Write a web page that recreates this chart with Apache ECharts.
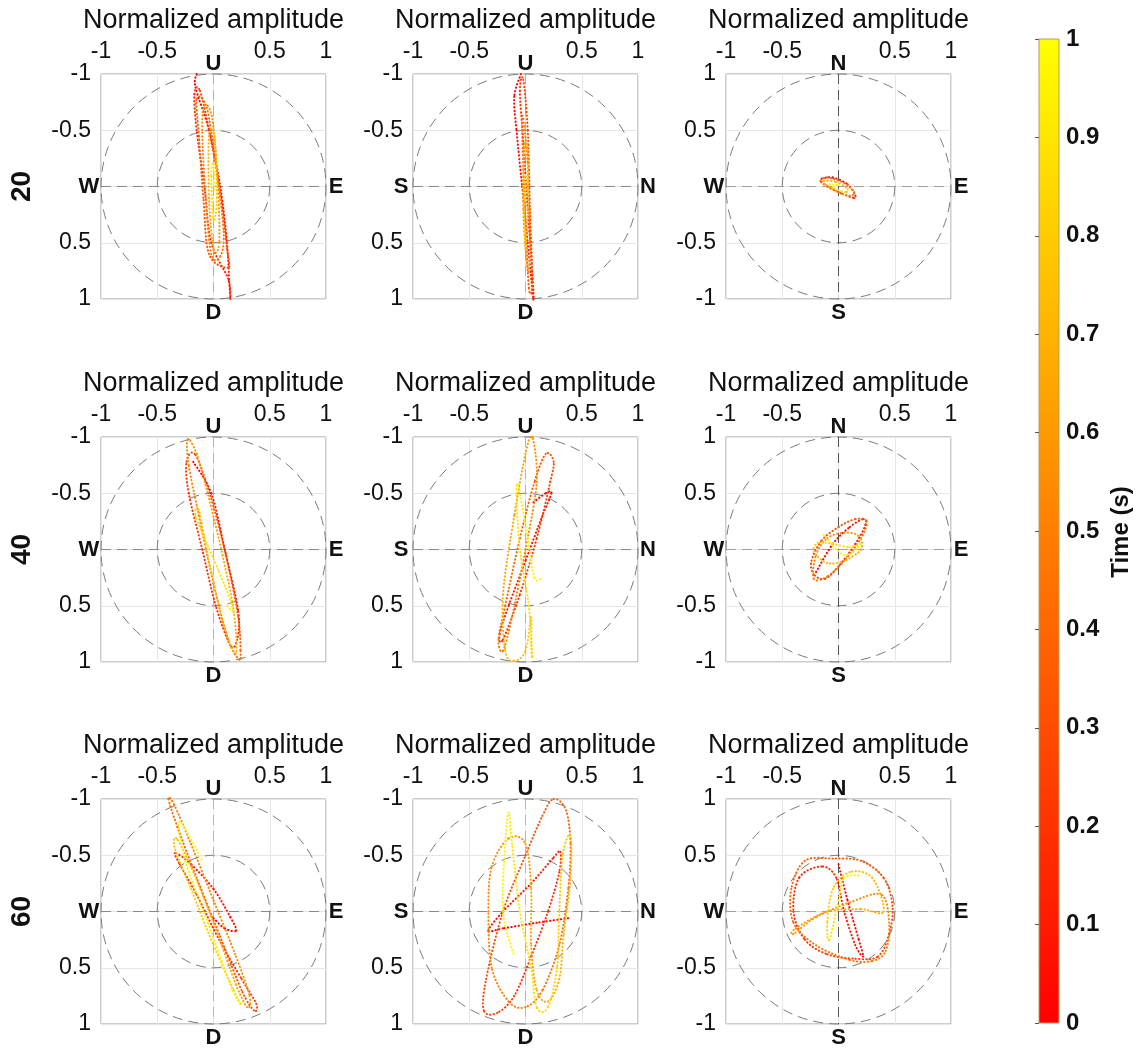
<!DOCTYPE html>
<html>
<head>
<meta charset="utf-8">
<script src="https://cdn.jsdelivr.net/npm/echarts@6/dist/echarts.min.js"></script>
<style>html,body{margin:0;padding:0;background:#fff}#c{width:1142px;height:1048px}</style>
</head>
<body>
<div id="c"></div>
<script>
// ---------------- DATA ----------------
const ampTicks = [-1, -0.5, 0, 0.5, 1];
const timeTicks = [0, 0.1, 0.2, 0.3, 0.4, 0.5, 0.6, 0.7, 0.8, 0.9, 1];
const rowLabels = ['20', '40', '60'];
const axisTitle = 'Normalized amplitude';
const colorbarTitle = 'Time (s)';
const ringRadii = [0.5, 1];
const dirLabels = [
  { top: 'U', bottom: 'D', left: 'W', right: 'E' },
  { top: 'U', bottom: 'D', left: 'S', right: 'N' },
  { top: 'N', bottom: 'S', left: 'W', right: 'E' }
];
// each point: [horizontal, vertical, time(s)]
const traj20_UD_WE = [
  [-0.15,-1.0,0],[-0.16,-0.88,0.02],[-0.04,-0.5,0.04],[0.06,0.0,0.06],[0.12,0.5,0.08],[0.14,0.85,0.10],[0.15,1.0,0.11],
  [0.13,0.82,0.13],[-0.02,0.5,0.15],[-0.08,0.0,0.17],[-0.15,-0.5,0.19],[-0.17,-0.82,0.21],[-0.12,-0.85,0.23],
  [-0.03,-0.45,0.25],[0.06,0.05,0.27],[0.12,0.55,0.29],[0.13,0.72,0.31],[-0.04,0.6,0.33],[-0.09,0.1,0.35],
  [-0.13,-0.45,0.37],[-0.15,-0.78,0.39],[-0.06,-0.7,0.41],[0.02,-0.2,0.43],[0.09,0.4,0.45],[0.06,0.62,0.47],
  [-0.02,0.6,0.49],[-0.07,0.1,0.51],[-0.1,-0.5,0.53],[-0.08,-0.72,0.55],[-0.01,-0.6,0.57],[0.04,0.0,0.60],
  [0.05,0.5,0.63],[0.0,0.55,0.66],[-0.04,0.1,0.70],[-0.04,-0.45,0.74],[0.01,-0.45,0.78],[0.03,0.1,0.82],
  [0.0,0.3,0.86],[-0.02,-0.1,0.90],[0.0,-0.2,0.94],[0.01,0.05,1.0]
];
const traj20_UD_SN = [
  [-0.04,-1.0,0],[-0.1,-0.8,0.02],[-0.08,-0.5,0.04],[-0.03,0.0,0.06],[0.02,0.5,0.08],[0.07,1.0,0.10],
  [0.06,0.75,0.13],[0.02,0.2,0.16],[-0.02,-0.4,0.19],[-0.05,-0.85,0.22],[-0.02,-0.95,0.25],[0.02,-0.5,0.28],
  [0.04,0.2,0.31],[0.06,0.85,0.34],[0.03,0.9,0.37],[0.0,0.3,0.40],[-0.03,-0.5,0.43],[-0.02,-0.6,0.46],
  [0.02,-0.2,0.50],[0.04,0.5,0.54],[0.02,0.75,0.58],[-0.02,0.2,0.62],[-0.01,-0.35,0.66],[0.02,-0.3,0.70],
  [0.02,0.2,0.75],[0.0,0.55,0.80],[-0.01,0.1,0.86],[0.0,-0.1,0.92],[0.0,0.1,1.0]
];
const traj20_NS_WE = [
  [-0.15,0.07,0],[-0.05,0.08,0.05],[0.08,0.02,0.10],[0.15,-0.08,0.15],[0.13,-0.1,0.20],[0.02,-0.06,0.25],
  [-0.1,0.0,0.30],[-0.16,0.05,0.35],[-0.1,0.08,0.40],[0.05,0.03,0.45],[0.14,-0.05,0.50],[0.1,-0.08,0.55],
  [-0.02,-0.04,0.60],[-0.12,0.02,0.65],[-0.13,0.05,0.70],[-0.02,0.04,0.75],[0.08,-0.02,0.80],[0.06,-0.05,0.85],
  [-0.05,-0.01,0.90],[-0.08,0.02,0.95],[0.0,0.01,1.0]
];
const traj40_UD_WE = [
  [-0.18,-0.78,0],[-0.02,-0.5,0.03],[0.1,0.0,0.06],[0.22,0.55,0.09],[0.21,0.8,0.12],[0.15,0.85,0.14],
  [0.02,0.5,0.16],[-0.1,0.0,0.19],[-0.22,-0.5,0.22],[-0.24,-0.78,0.25],[-0.16,-0.84,0.27],[-0.02,-0.45,0.30],
  [0.11,0.05,0.33],[0.22,0.6,0.36],[0.24,0.9,0.39],[0.23,0.98,0.42],[0.13,0.8,0.45],[0.0,0.3,0.48],
  [-0.13,-0.3,0.51],[-0.22,-0.75,0.54],[-0.23,-0.98,0.57],[-0.15,-0.85,0.60],[-0.04,-0.45,0.63],[0.08,0.05,0.66],
  [0.18,0.55,0.69],[0.2,0.92,0.72],[0.1,0.7,0.75],[-0.03,0.15,0.78],[-0.13,-0.35,0.81],[-0.16,-0.3,0.84],
  [-0.1,-0.15,0.87],[0.05,0.2,0.90],[0.15,0.45,0.94],[0.17,0.55,0.97],[0.12,0.5,1.0]
];
const traj40_UD_SN = [
  [0.07,-0.42,0],[0.18,-0.5,0.02],[0.23,-0.5,0.04],[0.15,-0.3,0.06],[0.0,0.1,0.09],[-0.15,0.5,0.12],
  [-0.23,0.75,0.15],[-0.2,0.8,0.18],[-0.05,0.4,0.21],[0.1,-0.1,0.24],[0.22,-0.6,0.27],[0.25,-0.78,0.30],
  [0.18,-0.85,0.33],[0.08,-0.6,0.36],[-0.05,-0.1,0.39],[-0.18,0.5,0.42],[-0.24,0.8,0.45],[-0.2,0.9,0.48],
  [-0.12,0.6,0.50],[0.0,0.0,0.53],[0.1,-0.6,0.56],[0.06,-1.0,0.60],[0.0,-0.85,0.63],[-0.1,-0.3,0.66],
  [-0.2,0.4,0.69],[-0.18,0.9,0.72],[-0.1,0.99,0.75],[0.0,0.9,0.78],[0.05,0.6,0.80],[0.05,0.85,0.82],
  [0.06,0.95,0.84],[0.03,0.5,0.86],[-0.05,0.0,0.89],[-0.08,-0.5,0.92],[-0.06,-0.55,0.94],[0.02,-0.1,0.96],
  [0.08,0.25,0.98],[0.15,0.25,1.0]
];
const traj40_NS_WE = [
  [-0.2,-0.2,0],[-0.05,0.05,0.03],[0.1,0.2,0.06],[0.22,0.27,0.09],[0.24,0.22,0.12],[0.15,0.05,0.15],
  [0.0,-0.15,0.18],[-0.12,-0.26,0.21],[-0.22,-0.22,0.24],[-0.24,-0.1,0.27],[-0.15,0.08,0.30],[0.0,0.2,0.33],
  [0.15,0.27,0.36],[0.25,0.25,0.39],[0.2,0.1,0.42],[0.05,-0.1,0.45],[-0.1,-0.24,0.48],[-0.22,-0.26,0.51],
  [-0.2,-0.05,0.54],[-0.1,0.1,0.57],[0.05,0.15,0.60],[0.18,0.12,0.63],[0.2,0.0,0.66],[0.05,-0.1,0.70],
  [-0.1,-0.12,0.74],[-0.22,-0.02,0.78],[-0.18,0.06,0.82],[-0.05,0.05,0.86],[0.1,0.02,0.90],[0.2,0.05,0.93],
  [0.05,-0.05,0.96],[-0.15,0.15,1.0]
];
const traj60_UD_WE = [
  [0.0,0.06,0],[0.1,0.15,0.02],[0.2,0.17,0.04],[0.15,0.05,0.06],[0.0,-0.2,0.08],[-0.2,-0.42,0.10],
  [-0.34,-0.52,0.12],[-0.3,-0.42,0.14],[-0.15,-0.15,0.17],[0.05,0.25,0.20],[0.25,0.6,0.23],[0.38,0.82,0.26],
  [0.36,0.88,0.29],[0.25,0.7,0.32],[0.05,0.2,0.35],[-0.15,-0.3,0.38],[-0.32,-0.75,0.41],[-0.4,-1.0,0.44],
  [-0.35,-0.95,0.47],[-0.2,-0.6,0.50],[0.0,-0.1,0.53],[0.2,0.4,0.56],[0.32,0.75,0.59],[0.3,0.85,0.62],
  [0.2,0.65,0.65],[0.0,0.1,0.68],[-0.2,-0.4,0.71],[-0.33,-0.65,0.74],[-0.34,-0.55,0.77],[-0.2,-0.2,0.80],
  [0.0,0.3,0.83],[0.18,0.7,0.86],[0.24,0.82,0.89],[0.15,0.65,0.92],[-0.05,0.1,0.94],[-0.25,-0.45,0.96],
  [-0.3,-0.8,0.98],[-0.1,-0.45,1.0]
];
const traj60_UD_SN = [
  [0.38,0.06,0],[0.1,0.1,0.02],[-0.2,0.15,0.04],[-0.33,0.17,0.06],[-0.2,0.0,0.08],[0.05,-0.25,0.10],
  [0.25,-0.48,0.12],[0.31,-0.53,0.14],[0.3,-0.35,0.16],[0.2,0.0,0.18],[0.05,0.4,0.20],[-0.1,0.75,0.22],
  [-0.25,0.9,0.24],[-0.37,0.88,0.26],[-0.35,0.6,0.28],[-0.2,0.0,0.30],[0.0,-0.5,0.32],[0.15,-0.85,0.34],
  [0.25,-1.0,0.36],[0.36,-0.9,0.38],[0.4,-0.6,0.40],[0.38,-0.2,0.42],[0.3,0.3,0.44],[0.15,0.7,0.46],
  [0.0,0.85,0.48],[-0.15,0.8,0.50],[-0.3,0.5,0.52],[-0.33,0.0,0.54],[-0.3,-0.4,0.56],[-0.15,-0.65,0.58],
  [0.0,-0.6,0.60],[0.05,-0.2,0.62],[0.05,0.3,0.64],[0.1,0.7,0.66],[0.2,0.8,0.68],[0.3,0.6,0.70],
  [0.34,0.2,0.72],[0.4,-0.3,0.74],[0.4,-0.68,0.76],[0.33,-0.5,0.78],[0.3,0.0,0.80],[0.28,0.5,0.82],
  [0.2,0.85,0.84],[0.1,0.85,0.86],[0.05,0.5,0.88],[-0.05,0.0,0.90],[-0.12,-0.6,0.92],[-0.15,-0.88,0.94],
  [-0.18,-0.6,0.96],[-0.2,0.0,0.98],[-0.1,0.4,1.0]
];
const traj60_NS_WE = [
  [0.0,0.42,0],[0.08,0.1,0.02],[0.18,-0.25,0.04],[0.22,-0.4,0.06],[0.15,-0.3,0.08],[0.05,0.0,0.10],
  [-0.02,0.3,0.12],[-0.15,0.4,0.14],[-0.35,0.3,0.16],[-0.4,0.0,0.18],[-0.3,-0.25,0.20],[-0.1,-0.38,0.22],
  [0.15,-0.42,0.24],[0.35,-0.4,0.26],[0.45,-0.2,0.28],[0.48,0.05,0.30],[0.4,0.3,0.32],[0.2,0.45,0.34],
  [-0.05,0.47,0.36],[-0.3,0.45,0.38],[-0.42,0.2,0.40],[-0.4,-0.1,0.42],[-0.2,-0.3,0.44],[0.1,-0.43,0.46],
  [0.3,-0.44,0.48],[0.42,-0.35,0.50],[0.45,-0.1,0.52],[0.38,0.15,0.54],[0.1,0.08,0.56],[-0.2,-0.05,0.58],
  [-0.4,-0.2,0.60],[-0.38,-0.15,0.62],[-0.1,0.0,0.65],[0.2,0.02,0.68],[0.4,0.0,0.71],[0.3,0.3,0.74],
  [0.1,0.35,0.77],[-0.05,0.2,0.80],[-0.1,-0.1,0.84],[-0.08,-0.25,0.88],[0.0,0.1,0.92],[0.05,0.3,0.96],
  [0.2,0.32,1.0]
];
const panels = [
  [traj20_UD_WE, traj20_UD_SN, traj20_NS_WE],
  [traj40_UD_WE, traj40_UD_SN, traj40_NS_WE],
  [traj60_UD_WE, traj60_UD_SN, traj60_NS_WE]
];

// ---------------- LAYOUT / STYLE ----------------
const FONT = '"Liberation Sans", Arial, Helvetica, sans-serif';
const colLeft = [101, 413, 726];
const rowTop = [74, 437, 799];
const SIZE = 225;
const cbar = { left: 1039, top: 39, width: 20, height: 984 };

const grids = [], xAxes = [], yAxes = [], series = [], trajIdx = [];

function fmtTick(v) { return v === 0 ? '' : String(v); }

function frameRender(c) {
  return function (params, api) {
    const o = api.coord([0, 0]);
    const a = api.coord([ampTicks[0], ampTicks[0]]);
    const b = api.coord([ampTicks[4], ampTicks[4]]);
    const L = Math.min(a[0], b[0]), R = Math.max(a[0], b[0]);
    const T = Math.min(a[1], b[1]), B = Math.max(a[1], b[1]);
    const children = [];
    ringRadii.forEach(function (r) {
      const s = api.size([r, r]);
      children.push({ type: 'circle', shape: { cx: o[0], cy: o[1], r: s[0] },
        style: { fill: 'none', stroke: '#7a7a7a', lineWidth: 1, lineDash: [10, 6] } });
    });
    const hCol = c === 2 ? '#a0a0a0' : '#8a8a8a';
    const vCol = c === 2 ? '#555555' : '#b0b4c0';
    children.push({ type: 'line', shape: { x1: L, y1: o[1], x2: R, y2: o[1] },
      style: { stroke: hCol, lineWidth: 1, lineDash: [10, 6] } });
    children.push({ type: 'line', shape: { x1: o[0], y1: T, x2: o[0], y2: B },
      style: { stroke: vCol, lineWidth: 1, lineDash: [10, 6] } });
    const d = dirLabels[c];
    const f = 'bold 22px ' + FONT;
    const txt = function (t, x, y) {
      return { type: 'text', x: x, y: y, style: { text: t, font: f, fill: '#111', align: 'center', verticalAlign: 'middle' } };
    };
    children.push(txt(d.top, o[0], T - 10));
    children.push(txt(d.bottom, o[0], B + 14));
    children.push(txt(d.left, L - 12, o[1]));
    children.push(txt(d.right, R + 10, o[1]));
    return { type: 'group', children: children };
  };
}

function trajRender(pts) {
  return function (params, api) {
    const i = params.dataIndex;
    if (i >= pts.length - 1) return null;
    const n = pts.length;
    const P = function (k) { const q = pts[Math.max(0, Math.min(n - 1, k))]; return api.coord([q[0], q[1]]); };
    const p0 = P(i - 1), p1 = P(i), p2 = P(i + 1), p3 = P(i + 2);
    const c1 = [p1[0] + (p2[0] - p0[0]) / 6, p1[1] + (p2[1] - p0[1]) / 6];
    const c2 = [p2[0] - (p3[0] - p1[0]) / 6, p2[1] - (p3[1] - p1[1]) / 6];
    return {
      type: 'bezierCurve',
      shape: { x1: p1[0], y1: p1[1], x2: p2[0], y2: p2[1], cpx1: c1[0], cpy1: c1[1], cpx2: c2[0], cpy2: c2[1] },
      style: { fill: 'none', stroke: api.visual('color'), lineWidth: 2, lineDash: [0.4, 3.2], lineCap: 'round' },
      silent: true
    };
  };
}

let gi = 0;
for (let r = 0; r < 3; r++) {
  for (let c = 0; c < 3; c++) {
    grids.push({ left: colLeft[c], top: rowTop[r], width: SIZE, height: SIZE, show: true,
      borderColor: '#9a9a9a', borderWidth: 1, backgroundColor: 'transparent', outerBoundsMode: 'none', containLabel: false });
    xAxes.push({ gridIndex: gi, type: 'value', position: 'top', min: ampTicks[0], max: ampTicks[4], interval: 0.5,
      name: axisTitle, nameLocation: 'middle', nameGap: 40,
      nameTextStyle: { fontSize: 27, color: '#111', fontFamily: FONT },
      axisLine: { show: false }, axisTick: { show: false },
      splitLine: { show: true, lineStyle: { color: '#e6e6e6', width: 1 } },
      axisLabel: { formatter: fmtTick, fontSize: 23, color: '#111', fontFamily: FONT, margin: 11, showMinLabel: true, showMaxLabel: true } });
    yAxes.push({ gridIndex: gi, type: 'value', inverse: c < 2, min: ampTicks[0], max: ampTicks[4], interval: 0.5,
      axisLine: { show: false }, axisTick: { show: false },
      splitLine: { show: true, lineStyle: { color: '#e6e6e6', width: 1 } },
      axisLabel: { formatter: fmtTick, fontSize: 23, color: '#111', fontFamily: FONT, margin: 10, showMinLabel: true, showMaxLabel: true } });
    series.push({ type: 'custom', coordinateSystem: 'cartesian2d', xAxisIndex: gi, yAxisIndex: gi,
      data: [[0, 0]], renderItem: frameRender(c), silent: true, z: 1, clip: false });
    const pts = panels[r][c];
    trajIdx.push(series.length);
    series.push({ type: 'custom', coordinateSystem: 'cartesian2d', xAxisIndex: gi, yAxisIndex: gi,
      dimensions: ['x', 'y', 't'], encode: { x: 0, y: 1 },
      data: pts, renderItem: trajRender(pts), silent: true, z: 3, clip: false });
    gi++;
  }
}

// colorbar
grids.push({ left: cbar.left, top: cbar.top, width: cbar.width, height: cbar.height, show: false, outerBoundsMode: 'none', containLabel: false });
xAxes.push({ gridIndex: gi, type: 'value', min: 0, max: 1, show: false });
yAxes.push({ gridIndex: gi, type: 'value', position: 'right', min: timeTicks[0], max: timeTicks[timeTicks.length - 1], interval: 0.1, z: 6,
  axisLine: { show: false }, splitLine: { show: false },
  axisTick: { show: true, inside: true, length: 4, lineStyle: { color: '#555', width: 1 } },
  axisLabel: { fontSize: 24, fontWeight: 'bold', color: '#111', fontFamily: FONT, margin: 7,
    formatter: function (v) { return String(Math.round(v * 10) / 10); } } });
series.push({ type: 'custom', coordinateSystem: 'cartesian2d', xAxisIndex: gi, yAxisIndex: gi, data: [[0, 0]], silent: true, z: 2,
  renderItem: function (params, api) {
    const p = api.coord([0, timeTicks[timeTicks.length - 1]]);
    const q = api.coord([1, timeTicks[0]]);
    return { type: 'rect', shape: { x: p[0], y: p[1], width: q[0] - p[0], height: q[1] - p[1] },
      style: { fill: new echarts.graphic.LinearGradient(0, 0, 0, 1, [{ offset: 0, color: '#ffff00' }, { offset: 1, color: '#ff0000' }]),
        stroke: '#b0a060', lineWidth: 1 } };
  } });

const chart = echarts.init(document.getElementById('c'), null, { renderer: 'canvas' });
chart.setOption({
  animation: false,
  backgroundColor: '#fff',
  grid: grids, xAxis: xAxes, yAxis: yAxes, series: series,
  visualMap: [{ type: 'continuous', show: false, min: 0, max: 1, dimension: 2, seriesIndex: trajIdx,
    inRange: { color: ['#ff0000', '#ffff00'] } }],
  graphic: rowLabels.map(function (t, r) {
    return { type: 'text', x: 22, y: rowTop[r] + SIZE / 2, rotation: Math.PI / 2,
      style: { text: t, font: 'bold 28px ' + FONT, fill: '#111', align: 'center', verticalAlign: 'middle' } };
  }).concat([{ type: 'text', x: 1121, y: 532, rotation: Math.PI / 2,
    style: { text: colorbarTitle, font: 'bold 24px ' + FONT, fill: '#111', align: 'center', verticalAlign: 'middle' } }])
});
</script>
</body>
</html>
